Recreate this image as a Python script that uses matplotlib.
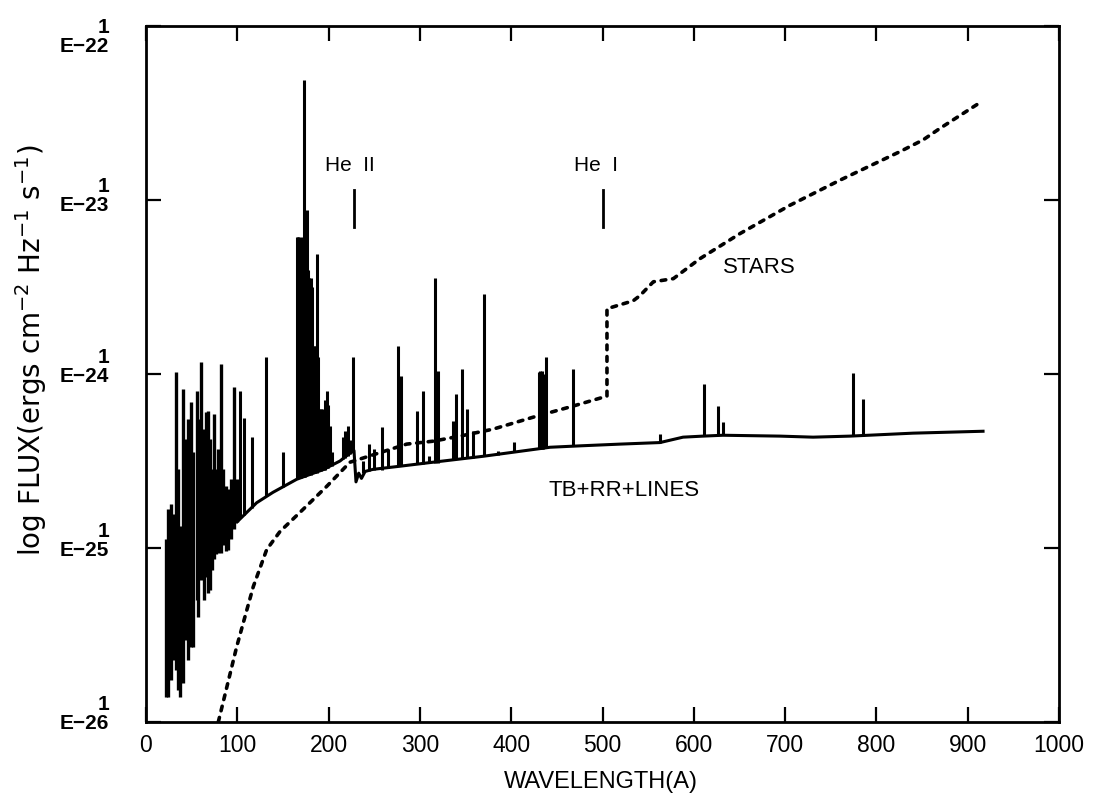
import numpy as np
import matplotlib
matplotlib.use('Agg')
import matplotlib.pyplot as plt
import matplotlib.transforms as mtransforms
from matplotlib.ticker import FixedLocator, NullLocator, NullFormatter

# ---------------------------------------------------------------
# Data (wavelength in A, log10 flux)
# ---------------------------------------------------------------

# TB+RR+LINES, dense short-wavelength band: each sample spans low..high
wl_short = [21.6, 24.4, 27.9, 30.7, 32.9, 35.0, 37.2, 40.2, 42.7, 45.5,
            49.0, 51.8, 55.5, 57.5, 60.2, 63.0, 65.2, 67.6, 70.1, 72.3,
            74.5, 77.2, 79.4, 81.8, 84.3, 87.1, 89.8, 92.6, 96.4, 99.7]
short_hi = [-24.951, -24.778, -24.749, -24.807, -23.988, -24.548, -24.876, -24.086, -24.375, -24.259,
            -24.161, -24.450, -24.098, -24.259, -23.931, -24.317, -24.219, -24.213, -24.375, -24.548,
            -24.231, -24.548, -24.432, -23.942, -24.548, -24.646, -24.663, -24.605, -24.075, -24.605]
short_lo = [-25.856, -25.856, -25.758, -25.643, -25.700, -25.815, -25.856, -25.775, -25.527, -25.643,
            -25.568, -25.568, -25.297, -25.395, -25.182, -25.297, -25.164, -25.256, -25.239, -25.124,
            -25.066, -25.037, -25.026, -25.026, -24.980, -25.020, -25.009, -24.951, -24.893, -24.853]

# TB+RR continuum
wl_cont = [99.7, 121.2, 139.1, 165.1, 193.9, 212.5, 222.0, 227.8, 230.0,
           233.0, 236.0, 240.0, 248.6, 278.2, 314.3, 369.1, 442.5, 475.0, 519.0,
           563.0, 588.2, 610.0, 632.0, 694.4, 730.6, 771.1, 840.1, 916.8]
logf_cont = [-24.85, -24.74, -24.68, -24.605, -24.55, -24.50, -24.46, -24.44, -24.62,
             -24.57, -24.60, -24.56, -24.548, -24.53, -24.507, -24.473, -24.421, -24.413, -24.403,
             -24.394, -24.363, -24.357, -24.352, -24.357, -24.363, -24.357, -24.34, -24.329]

# emission lines: wavelength, foot on the continuum, peak
line_wl = [103.0, 107.3, 115.8, 131.4, 150.1,
           165.0, 166.5, 168.0, 169.5, 171.0, 173.0, 174.5, 176.0, 177.5, 179.0,
           180.5, 182.0, 183.5, 185.0, 187.0, 188.5, 190.0, 191.5, 193.0, 194.5,
           196.0, 198.0, 199.5, 201.5, 203.5,
           216.0, 218.5, 221.0, 223.5, 226.4, 238.0, 244.0, 250.0, 258.0, 265.0,
           276.3, 279.0, 297.2, 303.7, 310.0, 316.5, 320.2, 335.9, 339.5, 346.4,
           351.3, 358.5, 370.2, 385.5, 403.1, 430.5, 432.0, 433.4, 435.0, 438.1,
           467.4, 563.0, 611.2, 626.8, 631.6, 774.7, 785.0]
line_base = [-24.83, -24.81, -24.77, -24.70, -24.65,
             -24.60, -24.60, -24.60, -24.60, -24.59, -24.59, -24.59, -24.58, -24.58, -24.58,
             -24.58, -24.57, -24.57, -24.57, -24.57, -24.56, -24.56, -24.56, -24.55, -24.55,
             -24.55, -24.54, -24.54, -24.53, -24.53,
             -24.49, -24.48, -24.47, -24.46, -24.45, -24.57, -24.56, -24.55, -24.55, -24.54,
             -24.53, -24.53, -24.52, -24.52, -24.51, -24.51, -24.51, -24.49, -24.49, -24.49,
             -24.48, -24.48, -24.47, -24.465, -24.45, -24.43, -24.43, -24.43, -24.43, -24.425,
             -24.415, -24.394, -24.357, -24.352, -24.352, -24.357, -24.356]
line_peak = [-24.10, -24.25, -24.36, -23.90, -24.45,
             -23.21, -23.21, -23.21, -23.25, -23.21, -22.31, -23.21, -23.06, -23.40, -23.45,
             -23.45, -23.50, -23.84, -23.84, -23.31, -23.90, -24.20, -24.20, -24.20, -24.25,
             -24.15, -24.10, -24.18, -24.30, -24.45,
             -24.36, -24.33, -24.30, -24.38, -23.90, -24.50, -24.40, -24.43, -24.305, -24.43,
             -23.84, -24.01, -24.21, -24.10, -24.47, -23.45, -23.98, -24.27, -24.115, -23.97,
             -24.20, -24.33, -23.54, -24.44, -24.39, -23.99, -23.98, -23.98, -24.00, -23.90,
             -23.97, -24.346, -24.058, -24.184, -24.277, -23.994, -24.144]

# STARS
wl_stars = [79.2, 99.3, 117.5, 132.2, 146.8, 168.7, 197.9, 223.4, 285.5, 314.7,
            343.9, 380.1, 424.2, 468.0, 504.9, 504.9, 533.7, 541.1, 555.7, 577.6,
            606.8, 650.6, 705.4, 760.1, 825.8, 851.0, 869.7, 915.3]
logf_stars = [-26.0, -25.568, -25.222, -25.009, -24.905, -24.795, -24.646, -24.507, -24.403, -24.386,
              -24.357, -24.317, -24.248, -24.184, -24.127, -23.625, -23.579, -23.549, -23.47, -23.452,
              -23.337, -23.193, -23.03, -22.886, -22.722, -22.655, -22.588, -22.434]

decades = [-26, -25, -24, -23, -22]
xticks = list(range(0, 1001, 100))

SANS = ['Liberation Sans', 'DejaVu Sans']

# ---------------------------------------------------------------
fig = plt.figure(figsize=(10.95, 7.99), dpi=100)
ax = fig.add_axes([146 / 1095, 77 / 799, 913 / 1095, 696 / 799])

ax.vlines(wl_short, 10.0 ** np.array(short_lo), 10.0 ** np.array(short_hi),
          color='black', lw=2.4, zorder=3)
ax.plot(wl_cont, 10.0 ** np.array(logf_cont), color='black', lw=2.2, zorder=3)
ax.vlines(line_wl, 10.0 ** np.array(line_base), 10.0 ** np.array(line_peak),
          color='black', lw=2.2, zorder=3)
ax.plot(wl_stars, 10.0 ** np.array(logf_stars), color='black', lw=2.6,
        linestyle=(0, (1.3, 1.9)), dash_capstyle='round', zorder=4)

# He II / He I markers
for wl_mark, lbl, xt in [(227.8, 'He  II', 223.4), (500.2, 'He  I', 492.9)]:
    ax.plot([wl_mark, wl_mark], [10 ** -22.945, 10 ** -23.153], color='black', lw=2.0)
    ax.text(xt, 10 ** -22.80, lbl, ha='center', va='center', fontsize=15, family=SANS)

ax.text(671.4, 10 ** -23.389, 'STARS', ha='center', va='center', fontsize=16, family=SANS)
ax.text(523.5, 10 ** -24.669, 'TB+RR+LINES', ha='center', va='center', fontsize=16, family=SANS)

# axes
ax.set_xlim(0, 1000)
ax.set_yscale('log')
ax.set_ylim(1e-26, 1e-22)
ax.set_xticks(xticks)
ax.set_xticklabels([str(t) for t in xticks], fontsize=16.5, family=SANS)
ax.yaxis.set_major_locator(FixedLocator([10.0 ** d for d in decades]))
ax.yaxis.set_minor_locator(NullLocator())
ax.yaxis.set_major_formatter(NullFormatter())
ax.tick_params(axis='both', which='major', direction='in', length=11, width=1.6,
               top=True, right=True)
ax.tick_params(axis='x', pad=9)
for s in ax.spines.values():
    s.set_linewidth(2.0)

# "1 / E-nn" tick labels, nudged like the original plotter output
label_shift = {-26: 6, -25: 5, -24: 5, -23: 3, -22: -8}
for d in decades:
    tr = mtransforms.offset_copy(ax.get_yaxis_transform(), fig=fig,
                                 x=0, y=label_shift[d], units='points')
    ax.text(-0.04, 10.0 ** d, '1\nE\u2212%d' % (-d), transform=tr,
            ha='right', va='center', multialignment='right', linespacing=1.0,
            fontsize=15, fontweight='bold', family=SANS)

fig.text(601 / 1095, 1 - 782 / 799, 'WAVELENGTH(A)', ha='center', va='center',
         fontsize=17, family=SANS)
fig.text(31 / 1095, 1 - 350 / 799,
         r'log FLUX(ergs cm$^{-2}$ Hz$^{-1}$ s$^{-1}$)',
         rotation=90, ha='center', va='center', fontsize=20)

fig.savefig('out.png', dpi=100)
plt.close(fig)
